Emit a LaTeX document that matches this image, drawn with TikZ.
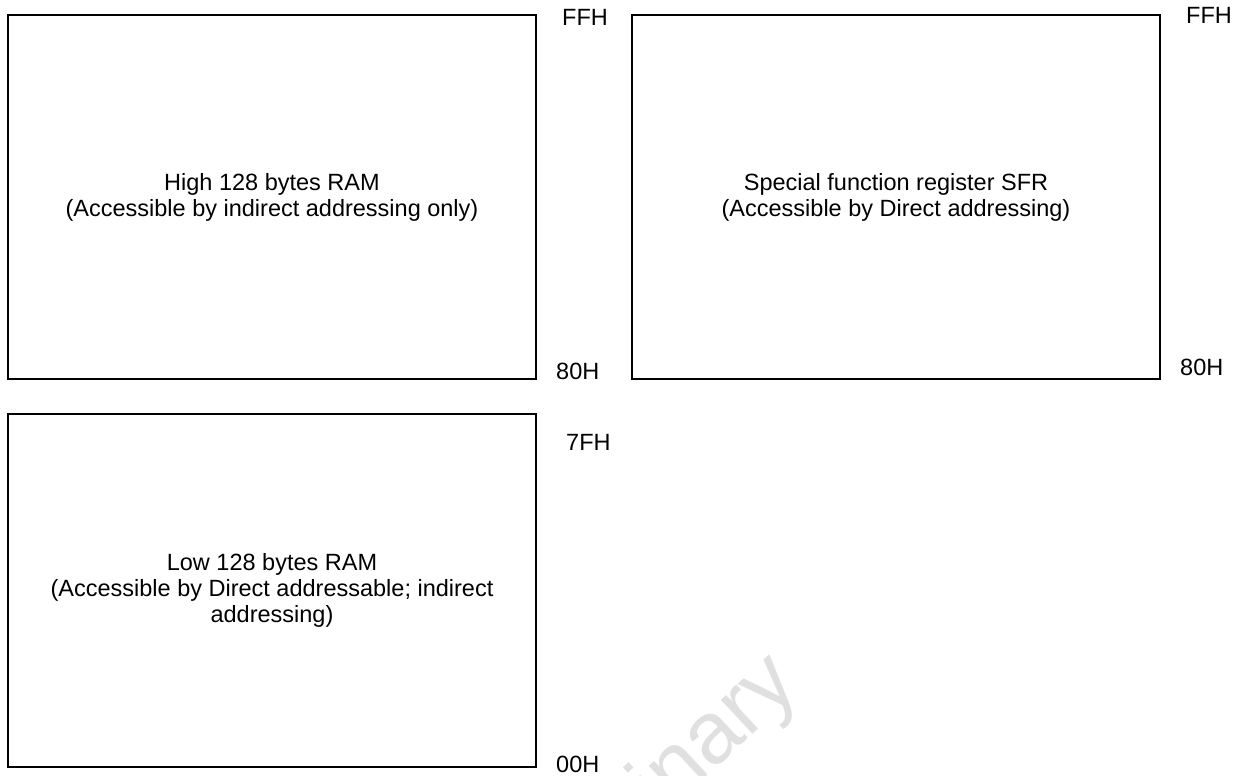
\documentclass[tikz,border=0pt]{standalone}
\usepackage{fontspec}
\setmainfont{Liberation Sans}
\usetikzlibrary{positioning}

\begin{document}
\begin{tikzpicture}
	[x=1pt,y=-1pt,font=\fontsize{23.5}{26}\selectfont,
	area/.style={shape=rectangle,draw=black,line width=1.6pt,align=center,
		minimum width=528pt,inner sep=0pt},
	addr/.style={anchor=base west,inner sep=0pt}]
	\useasboundingbox (0,0) rectangle (1242,776);
	
	\begin{scope}
		\clip (0,0) rectangle (1242,776);
		\node (mark) [rotate=43,anchor=base east,inner sep=0pt,text=black!12,
			font=\fontsize{88}{88}\selectfont] at (802,688) {Preliminary};
	\end{scope}
	
	\node (high) [area,minimum height=364pt] at (272,197)
		{High 128 bytes RAM\\(Accessible by indirect addressing only)};
	\node (sfr) [area,minimum height=364pt] at (896,197)
		{Special function register SFR\\(Accessible by Direct addressing)};
	\node (low) [area,minimum height=353pt] at (272,590.5)
		{Low 128 bytes RAM\\(Accessible by Direct addressable; indirect\\addressing)};
	
	\node (ffhA) [addr] at (562,26) {FFH};
	\node (80hA) [addr] at (556,379) {80H};
	\node (7fh) [addr] at (566,450) {7FH};
	\node (00h) [addr] at (556,772) {00H};
	\node (ffhB) [addr] at (1186,24) {FFH};
	\node (80hB) [addr] at (1180,375) {80H};
\end{tikzpicture}
\end{document}
